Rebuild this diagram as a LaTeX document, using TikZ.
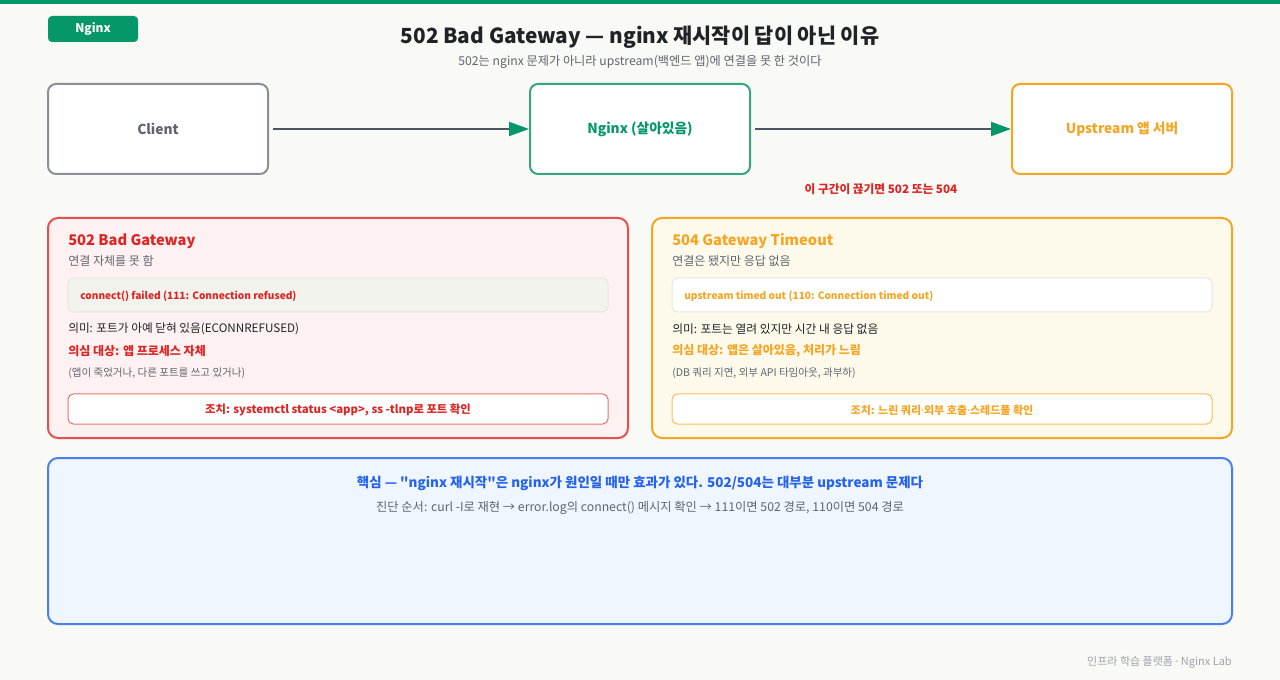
\documentclass[tikz,border=0pt]{standalone}
\usepackage{fontspec}
\setmainfont{Noto Sans CJK KR}[Ligatures=TeXOff]
\newfontfamily\ns{Noto Sans}
\usetikzlibrary{arrows.meta}
\definecolor{bg}{HTML}{F9F9F5}
\definecolor{grn}{HTML}{059669}
\definecolor{grnl}{HTML}{34A57F}
\definecolor{red}{HTML}{DC2626}
\definecolor{redl}{HTML}{E35050}
\definecolor{redf}{HTML}{FEF1F1}
\definecolor{org}{HTML}{F5A524}
\definecolor{orgl}{HTML}{F8BE5A}
\definecolor{orgf}{HTML}{FEFAEB}
\definecolor{blu}{HTML}{2563EB}
\definecolor{blul}{HTML}{4A80EE}
\definecolor{bluf}{HTML}{EFF6FF}
\definecolor{ink}{HTML}{1F2328}
\definecolor{gry}{HTML}{5F6570}
\definecolor{gryl}{HTML}{9CA3AF}
\definecolor{slate}{HTML}{4B5563}
\definecolor{boxg}{HTML}{8B8F9A}
\definecolor{codef}{HTML}{F3F3EE}
\definecolor{codel}{HTML}{E6E6E0}
\newcommand{\md}{{\ns ·}}
\tikzset{
  topbox/.style={draw, line width=1.5pt, fill=white, rounded corners=6pt, minimum width=165pt, minimum height=67.5pt, inner sep=0pt, font=\fontsize{10.3}{12}\selectfont\bfseries},
  panel/.style={line width=1.5pt, rounded corners=7.5pt},
  conn/.style={draw=slate, line width=1.5pt, -{Triangle[length=15pt, width=10.5pt, color=grn]}},
  lt/.style={anchor=west, inner sep=0pt},
}
\begin{document}
\begin{tikzpicture}[x=0.75pt,y=-0.75pt]
\useasboundingbox (0,0) rectangle (1280,680);
\fill[bg] (0,0) rectangle (1280,680);
\fill[grn] (0,0) rectangle (1280,4);
% tag
\node[fill=grn, rounded corners=3pt, minimum width=67.5pt, minimum height=19.5pt, inner sep=0pt, text=white, font=\fontsize{9}{10}\selectfont\bfseries] (tag) at (93,29) {Nginx};
% title
\node[inner sep=0pt, text=ink, font=\fontsize{15.6}{18}\selectfont\bfseries] (title) at (640,37.5) {502 Bad Gateway — nginx 재시작이 답이 아닌 이유};
\node[inner sep=0pt, text=gry, font=\fontsize{9.15}{10}\selectfont] (sub) at (640,61.5) {502는 nginx 문제가 아니라 upstream(백엔드 앱)에 연결을 못 한 것이다};
% top boxes
\node[topbox, draw=boxg, text=gry] (client) at (158,129) {Client};
\node[topbox, draw=grnl, text=grn] (nginx) at (640,129) {Nginx (살아있음)};
\node[topbox, draw=org, text=org] (up) at (1122,129) {Upstream 앱 서버};
\draw[conn] ([xshift=3pt]client.east) -- (nginx.west);
\draw[conn] ([xshift=3pt]nginx.east) -- (up.west);
\node[inner sep=0pt, text=red, font=\fontsize{8.75}{10}\selectfont\bfseries] (cut) at (881,189.5) {이 구간이 끊기면 502 또는 504};
% red panel
\draw[panel, draw=redl, fill=redf] (48,218) rectangle (628,438);
\node[lt, text=red, font=\fontsize{11}{13}\selectfont\bfseries] (r1) at (68,241) {502 Bad Gateway};
\node[lt, text=gry, font=\fontsize{9}{10}\selectfont] (r2) at (68,261) {연결 자체를 못 함};
\draw[fill=codef, draw=codel, line width=0.75pt, rounded corners=4pt] (68,278) rectangle (608,312);
\node[lt, text=red, font=\fontsize{7.6}{10}\selectfont\bfseries] (r3) at (80,296) {connect() failed (111: Connection refused)};
\node[lt, text=ink, font=\fontsize{8.75}{10}\selectfont] (r4) at (68,329) {의미: 포트가 아예 닫혀 있음(ECONNREFUSED)};
\node[lt, text=red, font=\fontsize{9}{10}\selectfont\bfseries] (r5) at (68,351) {의심 대상: 앱 프로세스 자체};
\node[lt, text=gry, font=\fontsize{7.9}{9}\selectfont] (r6) at (68,373) {(앱이 죽었거나, 다른 포트를 쓰고 있거나)};
\draw[fill=white, draw=redl!80, line width=0.75pt, rounded corners=4pt] (68,394) rectangle (608,424);
\node[inner sep=0pt, text=red, font=\fontsize{8.5}{10}\selectfont\bfseries] (r7) at (338,410) {조치: systemctl status <app>, ss -tlnp로 포트 확인};
% orange panel
\draw[panel, draw=org, fill=orgf] (652,218) rectangle (1232,438);
\node[lt, text=org, font=\fontsize{11}{13}\selectfont\bfseries] (o1) at (672,241) {504 Gateway Timeout};
\node[lt, text=gry, font=\fontsize{9}{10}\selectfont] (o2) at (672,261) {연결은 됐지만 응답 없음};
\draw[fill=white, draw=codel, line width=0.75pt, rounded corners=4pt] (672,278) rectangle (1212,312);
\node[lt, text=org, font=\fontsize{7.6}{10}\selectfont\bfseries] (o3) at (684,296) {upstream timed out (110: Connection timed out)};
\node[lt, text=ink, font=\fontsize{8.8}{10}\selectfont] (o4) at (672,329) {의미: 포트는 열려 있지만 시간 내 응답 없음};
\node[lt, text=org, font=\fontsize{9}{10}\selectfont\bfseries] (o5) at (672,351) {의심 대상: 앱은 살아있음, 처리가 느림};
\node[lt, text=gry, font=\fontsize{7.9}{9}\selectfont] (o6) at (672,373) {(DB 쿼리 지연, 외부 API 타임아웃, 과부하)};
\draw[fill=white, draw=orgl, line width=0.75pt, rounded corners=4pt] (672,394) rectangle (1212,424);
\node[inner sep=0pt, text=org, font=\fontsize{8.25}{10}\selectfont\bfseries] (o7) at (942,410) {조치: 느린 쿼리\md 외부 호출\md 스레드풀 확인};
% blue panel
\draw[panel, draw=blul, fill=bluf] (48,458) rectangle (1232,624);
\node[inner sep=0pt, text=blu, font=\fontsize{10.1}{12}\selectfont\bfseries] (b1) at (640,483.5) {핵심 — "nginx 재시작"은 nginx가 원인일 때만 효과가 있다. 502/504는 대부분 upstream 문제다};
\node[inner sep=0pt, text=gry, font=\fontsize{9.2}{10}\selectfont] (b2) at (640,507.5) {진단 순서: curl -I로 재현 → error.log의 connect() 메시지 확인 → 111이면 502 경로, 110이면 504 경로};
% footer
\node[anchor=east, inner sep=0pt, text=gryl, font=\fontsize{8.25}{10}\selectfont] (foot) at (1232,662) {인프라 학습 플랫폼 \md{} Nginx Lab};
\end{tikzpicture}
\end{document}
